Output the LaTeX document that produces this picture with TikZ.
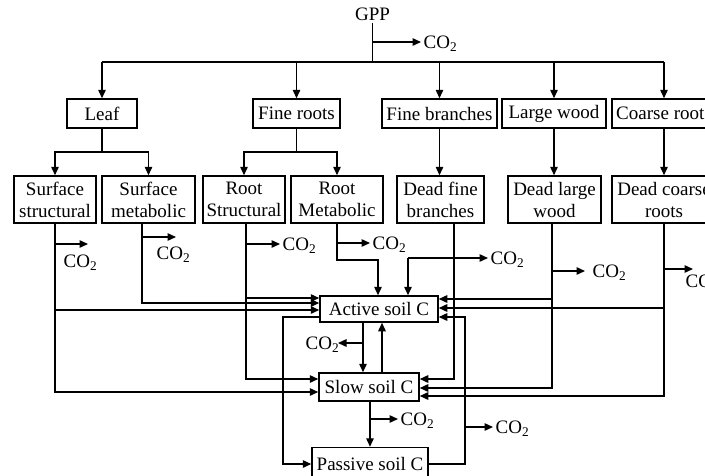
\documentclass[tikz,border=0pt]{standalone}
\usepackage{fontspec}
\setmainfont{Liberation Serif}
\usetikzlibrary{arrows.meta}
\newcommand{\cotwo}{CO\textsubscript{2}}
\begin{document}
\begin{tikzpicture}[x=1pt,y=-1pt,
  line width=1.4pt,
  font=\fontsize{19}{22}\selectfont,
  box/.style={draw, line width=1.5pt, inner sep=0pt, align=center},
  tbox/.style={box, minimum height=29pt},
  bbox/.style={box, minimum height=47pt},
  co/.style={inner xsep=2pt, inner ysep=0pt, text height=12.6pt, text depth=0pt, anchor=west},
  arr/.style={-{Triangle[length=8.5pt,width=7.5pt]}}]
\useasboundingbox (0,0) rectangle (705,475);

% top row
\node[inner sep=2pt] (gpp) at (372.5,14) {GPP};
\node[tbox, minimum width=70pt]  (leaf) at (102,113.5) {Leaf};
\node[tbox, minimum width=87pt]  (fr)   at (296.5,113.5) {Fine roots};
\node[tbox, minimum width=115pt] (fb)   at (439.5,113.5) {Fine branches};
\node[tbox, minimum width=104pt] (lw)   at (554,113.5) {Large wood};
\node[tbox, minimum width=104pt] (cr)   at (664,113.5) {Coarse roots};

% second row
\node[bbox, minimum width=82pt]  (ss)  at (55,199.5)    {Surface\\structural};
\node[bbox, minimum width=93pt]  (sm)  at (148.5,199.5) {Surface\\metabolic};
\node[bbox, minimum width=82pt]  (rs)  at (244,199.5)   {Root\\Structural};
\node[bbox, minimum width=92pt]  (rm)  at (337,199.5)   {Root\\Metabolic};
\node[bbox, minimum width=87pt]  (dfb) at (440.5,199.5) {Dead fine\\branches};
\node[bbox, minimum width=93pt]  (dlw) at (554.5,199.5) {Dead large\\wood};
\node[bbox, minimum width=104pt] (dcr) at (664,199.5)   {Dead coarse\\roots};

% soil pools
\node[box, minimum width=118pt, minimum height=26pt] (act)  at (379,309)   {Active soil C};
\node[box, minimum width=100pt, minimum height=28pt] (slow) at (369,387)   {Slow soil C};
\node[box, minimum width=116pt, minimum height=33pt] (pas)  at (370,464) {Passive soil C};

% GPP distribution
\draw (gpp.south) -- (372.5,62);
\node[co] (c0) at (421,42) {\cotwo};
\draw[arr] (372.5,42) -- (c0.west);
\draw (leaf.north |- 0,62) -- (cr.north |- 0,62);
\foreach \n in {leaf,fr,fb,lw,cr} \draw[arr] (\n.north |- 0,62) -- (\n.north);

% leaf and fine roots split
\draw (leaf.south) -- (leaf.south |- 0,152);
\draw[arr] (leaf.south |- 0,152) -| (ss.north);
\draw[arr] (leaf.south |- 0,152) -| (sm.north);
\draw (fr.south) -- (fr.south |- 0,152);
\draw[arr] (fr.south |- 0,152) -| (rs.north);
\draw[arr] (fr.south |- 0,152) -| (rm.north);

% woody litter
\draw[arr] (fb.south) -- (fb.south |- dfb.north);
\draw[arr] (lw.south) -- (lw.south |- dlw.north);
\draw[arr] (cr.south) -- (dcr.north);

% surface structural
\draw[arr] (ss.south) |- (slow.west |- 0,392);
\draw[arr] (ss.south |- 0,310) -- (act.west |- 0,310);
\coordinate (t1) at (88,244);
\draw[arr] (ss.south |- t1) -- (t1);
\node[co] (c1) at (61,261.5) {\cotwo};

% surface metabolic
\draw[arr] (142,0 |- sm.south) |- (act.west |- 0,303);
\coordinate (t2) at (176,237);
\draw[arr] (142,237) -- (t2);
\node[co] (c2) at (154,253) {\cotwo};

% root structural
\draw[arr] (246,0 |- rs.south) |- (slow.west |- 0,379);
\draw[arr] (246,298) -- (act.west |- 0,298);
\node[co] (c3) at (280,244) {\cotwo};
\draw[arr] (246,244) -- (c3.west);

% root metabolic
\draw[arr] (rm.south) |- (378,260) -- (378,0 |- act.north);
\node[co] (c4) at (370,243) {\cotwo};
\draw[arr] (337,243) -- (c4.west);

% dead fine branches
\draw[arr] (454,0 |- dfb.south) |- (slow.east |- 0,379);
\node[co] (c5) at (488,258) {\cotwo};
\draw[arr] (408,258) -- (c5.west);
\draw[arr] (408,258) -- (408,0 |- act.north);

% dead large wood
\draw[arr] (552,0 |- dlw.south) |- (slow.east |- 0,388);
\draw[arr] (552,299) -- (act.east |- 0,299);
\node[co, inner xsep=7pt] (c6) at (585,271) {\cotwo};
\draw[arr] (552,271) -- (c6.west);

% dead coarse roots
\draw[arr] (dcr.south) |- (slow.east |- 0,396);
\draw[arr] (664,308) -- (act.east |- 0,308);
\coordinate (t7) at (693,269);
\draw[arr] (664,269) -- (t7);
\node[co] (c7) at (683,281) {\cotwo};

% active <-> slow
\draw[arr] (363,0 |- act.south) -- (363,0 |- slow.north);
\draw[arr] (382,0 |- slow.north) -- (382,0 |- act.south);
\coordinate (t8) at (338,343);
\draw[arr] (363,343) -- (t8);
\node[co] (c8) at (303,343) {\cotwo};

% slow -> passive
\draw[arr] (slow.south -| pas.north) -- (pas.north);
\node[co] (c9) at (398,419) {\cotwo};
\draw[arr] (370,419) -- (c9.west);

% active -> passive
\draw[arr] (act.west |- 0,317) -| (283,0 |- pas.west) -- (pas.west);

% passive -> active
\draw[arr] (pas.east) -| (465,317) -- (act.east |- 0,317);
\node[co] (c10) at (493,427) {\cotwo};
\draw[arr] (465,427) -- (c10.west);
\end{tikzpicture}
\end{document}
